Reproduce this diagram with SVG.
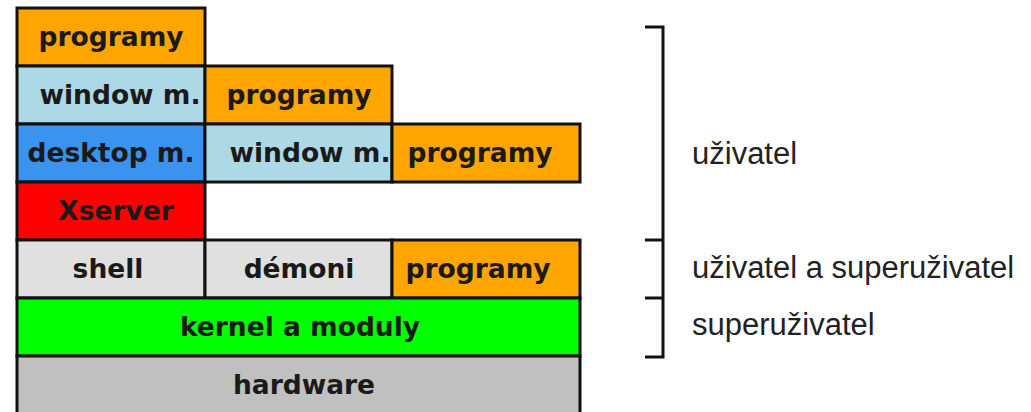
<svg xmlns="http://www.w3.org/2000/svg" width="1031" height="412" viewBox="0 0 1031 412">
<style>
.b{stroke:#111;stroke-width:3}
.t{font-family:"DejaVu Sans",Verdana,sans-serif;font-weight:bold;font-size:26.5px;fill:#1a1a1a;text-anchor:middle}
.l{font-family:"Liberation Sans",Arial,sans-serif;font-size:31px;fill:#222}
.org{fill:#FFA500}.lb{fill:#ADD8E6}.db{fill:#3A93EE}.red{fill:#FF0000}.lg{fill:#E0E0E0}.grn{fill:#00FF00}.hw{fill:#C0C0C0}
</style>
<rect width="1031" height="412" fill="#fff"/>
<g id="programy1"><rect class="b org" x="17" y="8" width="188" height="58"/><text class="t" x="111" y="46">programy</text></g>
<g id="windowm1"><rect class="b lb" x="17" y="66" width="188" height="58"/><text class="t" x="120" y="104">window m.</text></g>
<g id="programy2"><rect class="b org" x="205" y="66" width="187" height="58"/><text class="t" x="299" y="104">programy</text></g>
<g id="desktopm"><rect class="b db" x="17" y="124" width="188" height="58"/><text class="t" x="111" y="162">desktop m.</text></g>
<g id="windowm2"><rect class="b lb" x="205" y="124" width="187" height="58"/><text class="t" x="310" y="162">window m.</text></g>
<g id="programy3"><rect class="b org" x="392" y="124" width="188" height="58"/><text class="t" x="480" y="162">programy</text></g>
<g id="xserver"><rect class="b red" x="17" y="182" width="188" height="58"/><text class="t" x="116" y="220">Xserver</text></g>
<g id="shell"><rect class="b lg" x="17" y="240" width="188" height="58"/><text class="t" x="108" y="278">shell</text></g>
<g id="demoni"><rect class="b lg" x="205" y="240" width="187" height="58"/><text class="t" x="299" y="278">démoni</text></g>
<g id="programy4"><rect class="b org" x="392" y="240" width="188" height="58"/><text class="t" x="478" y="278">programy</text></g>
<g id="kernel"><rect class="b grn" x="17" y="298" width="563" height="58"/><text class="t" x="300" y="336">kernel a moduly</text></g>
<g id="hardware"><rect class="b hw" x="17" y="356" width="563" height="62"/><text class="t" x="304" y="394">hardware</text></g>
<g id="connectors" fill="none" stroke="#111" stroke-width="3">
<path d="M645 27H663V357H645M645 240H663M645 298H663"/>
</g>
<g id="labels">
<text class="l" x="692" y="164">uživatel</text>
<text class="l" x="692" y="278">uživatel a superuživatel</text>
<text class="l" x="692" y="335">superuživatel</text>
</g>
</svg>
